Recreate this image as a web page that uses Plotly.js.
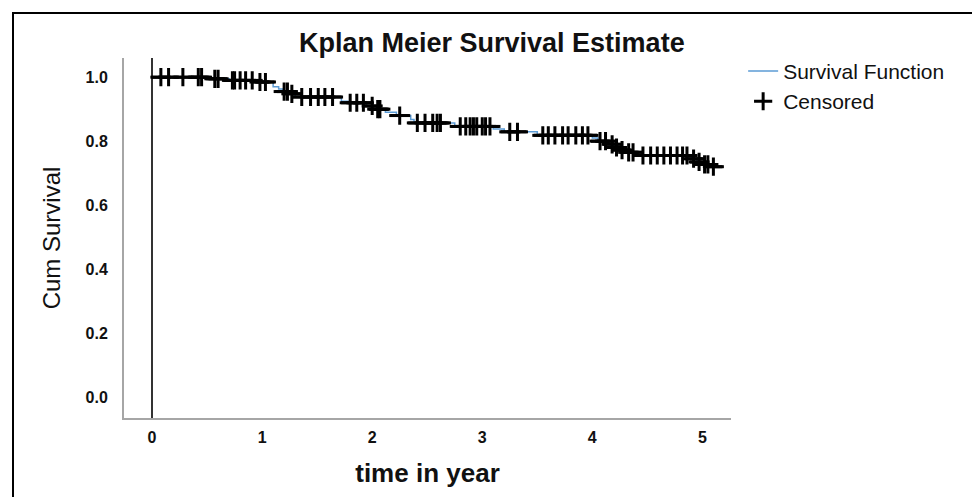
<!DOCTYPE html>
<html>
<head>
<meta charset="utf-8">
<script src="https://cdn.plot.ly/plotly-3.0.1.min.js"></script>
<style>
  html, body { margin: 0; padding: 0; background: #ffffff; }
  #chart { width: 972px; height: 497px; position: absolute; left: 0; top: 0; }
  #frame { position: absolute; left: 12px; top: 12px; width: 980px; height: 500px;
           border-left: 2px solid #000; border-top: 2px solid #000; pointer-events: none; }
</style>
</head>
<body>
<div id="chart"></div>
<div id="frame"></div>
<script>
// Step function of the Kaplan-Meier estimate (time in years, cumulative survival)
const stepTimes = [0, 0.5, 0.7, 0.92, 1.1, 1.15, 1.19, 1.25, 1.3, 1.72, 1.78, 1.95, 2.04, 2.12, 2.22, 2.35, 2.38, 2.75, 3.1, 3.2, 3.5, 4.0, 4.05, 4.15, 4.2, 4.26, 4.32, 4.38, 4.9, 4.95, 5.0, 5.07, 5.12];
const stepSurv  = [1.0, 0.995, 0.99, 0.985, 0.97, 0.963, 0.955, 0.948, 0.938, 0.925, 0.92, 0.91, 0.9, 0.89, 0.88, 0.868, 0.857, 0.846, 0.838, 0.829, 0.818, 0.81, 0.8, 0.79, 0.78, 0.772, 0.765, 0.755, 0.745, 0.735, 0.727, 0.72, 0.72];

// Censored observation times
const censorTimes = [0.08, 0.15, 0.28, 0.42, 0.45, 0.57, 0.6, 0.73, 0.75, 0.8, 0.85, 0.91, 0.98, 1.03,
  1.2, 1.23, 1.27, 1.36, 1.44, 1.51, 1.57, 1.64,
  1.8, 1.86, 1.92, 2.0, 2.05, 2.07,
  2.25,
  2.41, 2.48, 2.55, 2.59, 2.62,
  2.8, 2.85, 2.89, 2.92, 2.95, 3.0, 3.03, 3.07,
  3.25, 3.32,
  3.55, 3.6, 3.66, 3.73, 3.78, 3.85, 3.91, 3.96,
  4.07, 4.12, 4.18, 4.22, 4.27, 4.33, 4.37,
  4.46, 4.53, 4.59, 4.65, 4.71, 4.77, 4.82, 4.86,
  4.92, 4.97, 5.02, 5.05, 5.1];

const xTickVals = [0, 1, 2, 3, 4, 5];
const yTickVals = [0.0, 0.2, 0.4, 0.6, 0.8, 1.0];
const yTickText = ['0.0', '0.2', '0.4', '0.6', '0.8', '1.0'];

function survAt(t) {
  let s = stepSurv[0];
  for (let i = 0; i < stepTimes.length; i++) {
    if (stepTimes[i] <= t) s = stepSurv[i]; else break;
  }
  return s;
}
const censorSurv = censorTimes.map(survAt);

const FONT = '"Liberation Sans", Arial, sans-serif';

const traces = [
  {
    x: stepTimes, y: stepSurv, type: 'scatter', mode: 'lines',
    line: { shape: 'hv', color: '#5b9bd5', width: 1.5 },
    name: 'Survival Function'
  },
  {
    x: censorTimes, y: censorSurv, type: 'scatter', mode: 'markers',
    marker: { symbol: 'line-ew', size: 15, color: '#000', line: { color: '#000', width: 3 } },
    name: 'Censored-arms', showlegend: false
  },
  {
    x: censorTimes, y: censorSurv, type: 'scatter', mode: 'markers',
    marker: { symbol: 'cross-thin', size: 13, color: '#000', line: { color: '#000', width: 3 } },
    name: 'Censored'
  }
];

const layout = {
  width: 972, height: 497,
  paper_bgcolor: 'rgba(0,0,0,0)', plot_bgcolor: 'rgba(0,0,0,0)',
  margin: { l: 124, r: 241, t: 58, b: 79, pad: 0 },
  title: {
    text: 'Kplan Meier Survival Estimate',
    font: { family: FONT, size: 27, color: '#111', weight: 'bold' },
    xref: 'paper', x: 0.606, xanchor: 'center', yref: 'container', y: 0.915, yanchor: 'middle'
  },
  xaxis: {
    range: [-0.255, 5.26], tickvals: xTickVals, ticks: '', showgrid: false,
    zeroline: true, zerolinecolor: '#333', zerolinewidth: 1.5,
    showline: true, linecolor: '#a6a6a6', linewidth: 2, mirror: false,
    tickfont: { family: FONT, size: 16, color: '#111', weight: 'bold' },
    ticklabelstandoff: 4,
    title: { text: 'time in year', font: { family: FONT, size: 26, color: '#111', weight: 'bold' }, standoff: 19 }
  },
  yaxis: {
    range: [-0.066, 1.06], tickvals: yTickVals, ticktext: yTickText, ticks: '', showgrid: false,
    zeroline: false,
    showline: true, linecolor: '#a6a6a6', linewidth: 2,
    tickfont: { family: FONT, size: 16, color: '#111', weight: 'bold' },
    ticklabelstandoff: 11,
    title: { text: 'Cum Survival', font: { family: FONT, size: 24, color: '#111' }, standoff: 18 }
  },
  showlegend: true,
  legend: {
    x: 1.02, xanchor: 'left', y: 1.02, yanchor: 'top',
    font: { family: FONT, size: 21, color: '#111' },
    bgcolor: 'rgba(0,0,0,0)', borderwidth: 0, tracegroupgap: 0, itemwidth: 30
  }
};

Plotly.newPlot('chart', traces, layout, { displayModeBar: false, staticPlot: true });
</script>
</body>
</html>
